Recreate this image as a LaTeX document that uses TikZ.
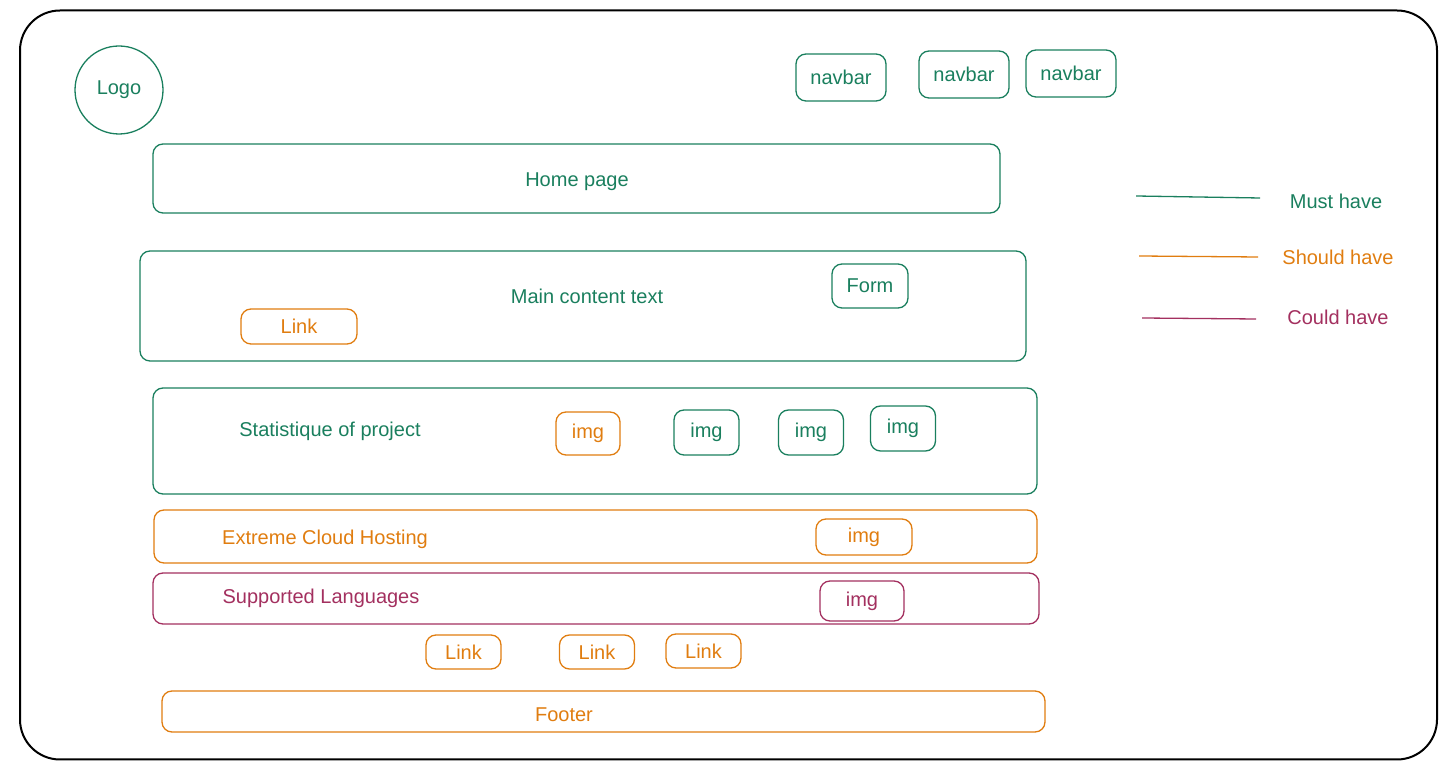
\documentclass[tikz,border=0pt]{standalone}
\usepackage{fontspec}
\setmainfont{Liberation Sans}
\definecolor{musthave}{HTML}{1A7F5E}
\definecolor{shouldhave}{HTML}{E07D10}
\definecolor{couldhave}{HTML}{A3305F}

\begin{document}
\begin{tikzpicture}[x=0.5pt, y=-0.5pt, font=\fontsize{10}{12}\selectfont,
    box/.style={draw, rounded corners=5pt, inner sep=0pt, line width=0.65pt},
    must/.style={box, draw=musthave, text=musthave},
    should/.style={box, draw=shouldhave, text=shouldhave},
    could/.style={box, draw=couldhave, text=couldhave},
    lbl/.style={yshift=-1.2pt}]
  \useasboundingbox (0,0) rectangle (1446,763);

  % page frame
  \node[draw, line width=1pt, rounded corners=20pt, minimum width=708.5pt,
    minimum height=374.5pt] (frame) at (728.5,385) {};

  % header
  \node[must, circle, minimum size=44pt] (logo) at (119,90) {Logo};
  \foreach \name/\x/\y in {nav1/841/77.5, nav2/964/74.5, nav3/1071/73.5}
  {
    \node[must, minimum width=45pt, minimum height=23.5pt] (\name) at (\x,\y) {navbar};
  }

  % sections
  \node[must, minimum width=423.5pt, minimum height=34.5pt] (home) at (576.5,178.5) {};
  \node[lbl, text=musthave] (hometext) at (577,179) {Home page};

  \node[must, minimum width=443pt, minimum height=55pt] (main) at (583,306) {};
  \node[lbl, text=musthave] (maintext) at (587,294) {Main content text};
  \node[must, minimum width=38pt, minimum height=22pt] (form) at (870,286) {Form};
  \node[should, minimum width=58pt, minimum height=17.5pt] (mainlink) at (299,326.5) {Link};

  \node[must, minimum width=442pt, minimum height=53pt] (stat) at (595,441) {};
  \node[lbl, text=musthave] (stattext) at (330,429) {Statistique of project};
  \node[should, minimum width=32pt, minimum height=21.5pt] (img1) at (588,433.5) {img};
  \foreach \i/\x/\y in {2/706.5/432.5, 3/811/432.5, 4/903/428.5}
  {
    \node[must, minimum width=32.5pt, minimum height=22.5pt] (img\i) at (\x,\y) {img};
  }

  \node[should, minimum width=441.5pt, minimum height=26.5pt] (cloud) at (595.5,536.5) {};
  \node[lbl, text=shouldhave] (cloudtext) at (325,537) {Extreme Cloud Hosting};
  \node[should, minimum width=48pt, minimum height=18pt] (img5) at (864,537) {img};

  \node[could, minimum width=443pt, minimum height=25.5pt] (lang) at (596,598.5) {};
  \node[lbl, text=couldhave] (langtext) at (321,596) {Supported Languages};
  \node[could, minimum width=42pt, minimum height=20pt] (img6) at (862,601) {img};

  \foreach \i/\x/\y in {1/463.5/652, 2/597/652, 3/703.5/651}
  {
    \node[should, minimum width=37.5pt, minimum height=17pt] (link\i) at (\x,\y) {Link};
  }

  \node[should, minimum width=441.5pt, minimum height=20.5pt] (footer) at (603.5,711.5) {};
  \node[lbl, text=shouldhave] (footertext) at (564,712) {Footer};

  % legend
  \coordinate (must1) at (1136,196);
  \coordinate (must2) at (1260,198);
  \coordinate (should1) at (1139,256);
  \coordinate (should2) at (1258,257);
  \coordinate (could1) at (1142,318);
  \coordinate (could2) at (1256,319);
  \draw[musthave, line width=0.65pt] (must1) -- (must2);
  \draw[shouldhave, line width=0.65pt] (should1) -- (should2);
  \draw[couldhave, line width=0.65pt] (could1) -- (could2);
  \node[lbl, text=musthave] (mustlbl) at (1336,199) {Must have};
  \node[lbl, text=shouldhave] (shouldlbl) at (1338,255) {Should have};
  \node[lbl, text=couldhave] (couldlbl) at (1338,315) {Could have};
\end{tikzpicture}
\end{document}
